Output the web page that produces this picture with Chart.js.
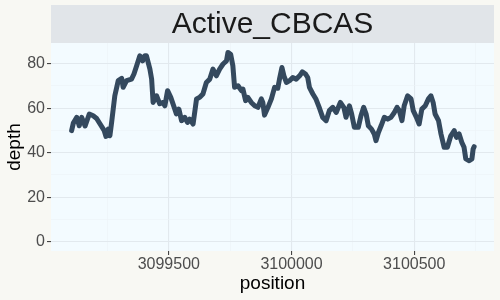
<!DOCTYPE html>
<html>
<head>
<meta charset="utf-8">
<script src="https://cdn.jsdelivr.net/npm/chart.js@4"></script>
<style>
  html, body { margin: 0; padding: 0; background: #f8f8f3; }
</style>
</head>
<body>
<canvas id="chart" width="500" height="300"></canvas>
<script>
// facet label + data
const facetTitle = 'Active_CBCAS';

const positions = [
  3099104, 3099111, 3099125, 3099135, 3099145, 3099159, 3099176, 3099192, 3099206, 3099220,
  3099237, 3099244, 3099253, 3099260, 3099267, 3099280, 3099294, 3099308, 3099314, 3099328,
  3099348, 3099358, 3099369, 3099382, 3099393, 3099402, 3099409, 3099423, 3099430, 3099436,
  3099450, 3099463, 3099477, 3099484, 3099495, 3099508, 3099522, 3099531, 3099541, 3099552,
  3099565, 3099576, 3099585, 3099599, 3099613, 3099626, 3099639, 3099653, 3099667, 3099680,
  3099694, 3099707, 3099721, 3099735, 3099741, 3099752, 3099761, 3099768, 3099782, 3099796,
  3099802, 3099813, 3099822, 3099836, 3099850, 3099863, 3099877, 3099883, 3099890, 3099904,
  3099918, 3099931, 3099944, 3099951, 3099961, 3099969, 3099979, 3099992, 3100005, 3100019,
  3100033, 3100044, 3100057, 3100066, 3100073, 3100087, 3100100, 3100114, 3100127, 3100141,
  3100154, 3100168, 3100182, 3100199, 3100213, 3100222, 3100236, 3100245, 3100256, 3100272,
  3100283, 3100294, 3100304, 3100313, 3100326, 3100337, 3100344, 3100354, 3100365, 3100378,
  3100392, 3100405, 3100419, 3100430, 3100439, 3100450, 3100459, 3100473, 3100487, 3100496,
  3100509, 3100520, 3100531, 3100545, 3100558, 3100568, 3100577, 3100585, 3100599, 3100609,
  3100622, 3100635, 3100649, 3100663, 3100672, 3100683, 3100694, 3100703, 3100710, 3100724,
  3100735, 3100740, 3100744
];

const depths = [
  49.9, 53.3, 55.9, 52.1, 55.9, 52.0, 57.4, 56.6, 55.4, 52.9,
  49.9, 47.3, 50.6, 47.6, 53.6, 65.6, 72.4, 73.4, 69.4, 72.4,
  73.1, 75.4, 79.1, 83.6, 81.3, 83.6, 83.6, 77.6, 73.1, 62.6,
  65.6, 62.0, 62.6, 61.1, 67.9, 64.9, 60.4, 57.4, 59.6, 54.4,
  55.9, 53.6, 55.1, 52.9, 64.2, 64.9, 66.4, 71.6, 73.1, 77.6,
  74.6, 77.6, 79.9, 81.3, 85.1, 84.3, 79.1, 69.4, 70.1, 67.9,
  68.6, 63.4, 64.9, 62.6, 61.1, 60.4, 64.2, 62.6, 56.9, 60.4,
  64.2, 69.4, 69.0, 73.1, 78.3, 74.6, 71.6, 72.4, 73.8, 73.1,
  74.6, 76.4, 75.4, 73.8, 69.4, 66.4, 64.0, 60.0, 55.9, 54.4,
  58.9, 60.4, 58.1, 62.6, 60.4, 55.9, 61.1, 57.4, 51.4, 51.4,
  56.6, 60.4, 57.4, 52.1, 50.6, 48.4, 45.4, 49.1, 52.1, 55.9,
  55.1, 55.9, 58.1, 60.4, 59.0, 54.4, 61.1, 65.6, 64.2, 58.9,
  55.9, 52.9, 59.6, 61.1, 64.2, 65.6, 62.6, 57.4, 54.4, 48.4,
  42.4, 42.4, 47.6, 49.9, 46.9, 48.4, 44.6, 42.4, 37.2, 36.4,
  37.2, 41.7, 42.7
];

// grid positions (major + minor) and the ones that get a label
const xGridTicks = [3099250, 3099500, 3099750, 3100000, 3100250, 3100500, 3100750];
const xLabelTicks = [3099500, 3100000, 3100500];
const yGridTicks = [0, 10, 20, 30, 40, 50, 60, 70, 80];
const yLabelTicks = [0, 20, 40, 60, 80];

const FONT = 'Liberation Sans, Arial, sans-serif';

// backgrounds + facet strip, ggplot style
const facetBg = {
  id: 'facetBg',
  beforeDraw(chart) {
    const c = chart.ctx, a = chart.chartArea;
    c.save();
    c.fillStyle = '#f8f8f3';
    c.fillRect(0, 0, chart.width, chart.height);
    c.fillStyle = '#f3fbff';
    c.fillRect(a.left, a.top, a.right - a.left, a.bottom - a.top);
    c.fillStyle = '#e1e5e9';
    c.fillRect(a.left, 5, a.right - a.left, a.top - 5);
    c.fillStyle = '#1a1a1a';
    c.font = '30px ' + FONT;
    c.textAlign = 'center';
    c.textBaseline = 'middle';
    c.fillText(facetTitle, (a.left + a.right) / 2, (5 + a.top) / 2 + 1);
    c.restore();
  }
};

const isMajorX = v => xLabelTicks.includes(v);
const isMajorY = v => yLabelTicks.includes(v);

new Chart(document.getElementById('chart'), {
  type: 'line',
  data: {
    datasets: [{
      data: positions.map((p, i) => ({ x: p, y: depths[i] })),
      borderColor: '#34495e',
      borderWidth: 5,
      borderJoinStyle: 'round',
      borderCapStyle: 'round',
      pointRadius: 0,
      tension: 0,
      fill: false
    }]
  },
  options: {
    responsive: false,
    animation: false,
    devicePixelRatio: 1,
    layout: { padding: { left: 3, right: 6, top: 43, bottom: 0 } },
    plugins: { legend: { display: false }, tooltip: { enabled: false } },
    scales: {
      x: {
        type: 'linear',
        min: 3099020,
        max: 3100825,
        border: { display: false },
        grid: {
          color: ctx => isMajorX(ctx.tick.value) ? '#e2e9ee' : '#edf3f7',
          lineWidth: ctx => isMajorX(ctx.tick.value) ? 1.1 : 0.6,
          tickColor: ctx => isMajorX(ctx.tick.value) ? '#444' : 'rgba(0,0,0,0)',
          tickLength: 4
        },
        ticks: {
          autoSkip: false,
          maxRotation: 0,
          padding: 0,
          color: '#4d4d4d',
          font: { family: FONT, size: 16 },
          callback: v => isMajorX(v) ? String(v) : ''
        },
        afterBuildTicks: s => { s.ticks = xGridTicks.map(v => ({ value: v })); },
        title: {
          display: true,
          text: 'position',
          color: '#000',
          font: { family: FONT, size: 19 },
          padding: { top: 0, bottom: 5 }
        },
        afterFit: s => { s.height = 49; }
      },
      y: {
        type: 'linear',
        min: -4.25,
        max: 89.35,
        border: { display: false },
        grid: {
          color: ctx => isMajorY(ctx.tick.value) ? '#e2e9ee' : '#edf3f7',
          lineWidth: ctx => isMajorY(ctx.tick.value) ? 1.1 : 0.6,
          tickColor: ctx => isMajorY(ctx.tick.value) ? '#444' : 'rgba(0,0,0,0)',
          tickLength: 4
        },
        ticks: {
          padding: 2,
          color: '#4d4d4d',
          font: { family: FONT, size: 16 },
          callback: v => isMajorY(v) ? String(v) : ''
        },
        afterBuildTicks: s => { s.ticks = yGridTicks.map(v => ({ value: v })); },
        title: {
          display: true,
          text: 'depth',
          color: '#000',
          font: { family: FONT, size: 19 },
          padding: { top: 0, bottom: 0 }
        },
        afterFit: s => { s.width = 48; }
      }
    }
  },
  plugins: [facetBg]
});
</script>
</body>
</html>
